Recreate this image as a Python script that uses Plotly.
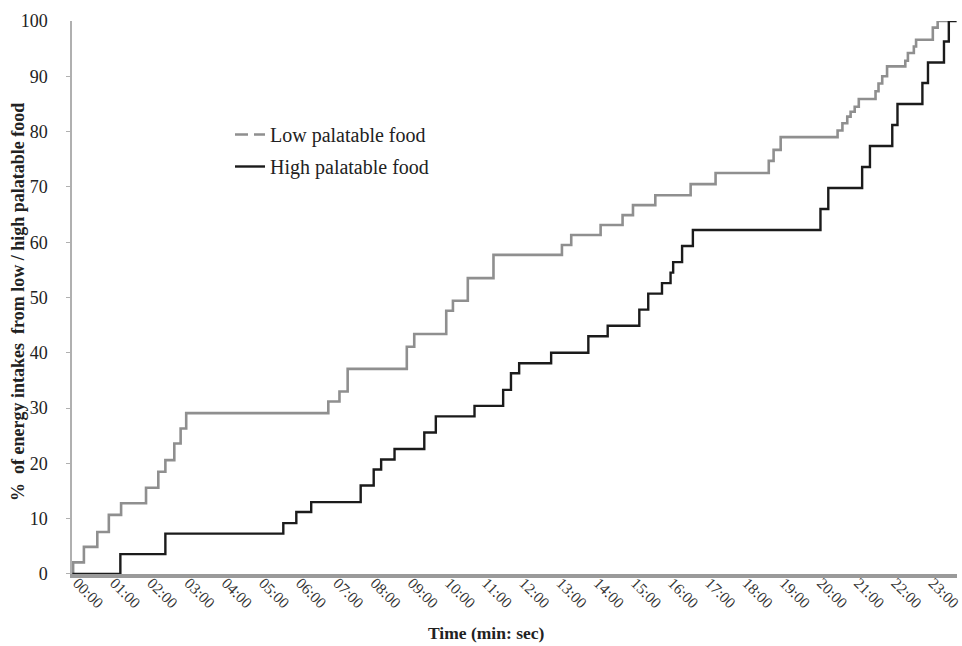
import plotly.graph_objects as go

# Time in minutes, cumulative % of energy intake
high_t = [0.0, 1.29, 2.50, 5.67, 6.02, 6.42, 7.75, 8.10, 8.30, 8.66, 9.46, 9.77,
          10.81, 11.58, 11.79, 12.01, 12.87, 13.87, 14.39, 15.24, 15.48, 15.85,
          16.08, 16.15, 16.39, 16.68, 20.11, 20.32, 21.23, 21.44, 22.04, 22.18,
          22.85, 23.00, 23.43, 23.56, 23.77]
high_v = [0.0, 3.6, 7.3, 9.2, 11.2, 13.0, 16.0, 18.9, 20.7, 22.6, 25.6, 28.5,
          30.4, 33.3, 36.3, 38.1, 40.0, 43.0, 44.9, 47.8, 50.7, 52.6,
          54.5, 56.4, 59.3, 62.2, 66.0, 69.8, 73.6, 77.4, 81.2, 85.0,
          88.8, 92.5, 96.3, 100.0, 100.0]

low_t = [0.0, 0.02, 0.31, 0.67, 0.98, 1.31, 1.98, 2.31, 2.50, 2.74, 2.91, 3.06,
         6.88, 7.18, 7.40, 8.99, 9.19, 10.05, 10.23, 10.63, 11.32, 13.16, 13.41,
         14.20, 14.79, 15.07, 15.67, 16.62, 17.29, 18.72, 18.85, 19.04, 20.57,
         20.70, 20.83, 20.92, 21.03, 21.14, 21.59, 21.67, 21.77, 21.90, 22.39,
         22.46, 22.62, 22.68, 23.13, 23.26, 23.55]
low_v = [0.0, 2.1, 4.9, 7.6, 10.7, 12.8, 15.6, 18.5, 20.6, 23.6, 26.3, 29.1,
         31.2, 33.0, 37.1, 41.1, 43.4, 47.6, 49.4, 53.5, 57.7, 59.5, 61.3,
         63.1, 64.9, 66.7, 68.5, 70.5, 72.5, 74.7, 76.7, 79.0, 80.2,
         81.5, 82.7, 83.6, 84.5, 85.9, 87.3, 88.7, 90.0, 91.8, 92.8,
         94.2, 95.4, 96.6, 98.8, 100.0, 100.0]

tick_vals = list(range(24))
tick_text = ["%02d:00" % m for m in tick_vals]
y_ticks = list(range(0, 101, 10))

GRAY = "#8f8f8f"
BLACK = "#1b1b1b"
SERIF = "Liberation Serif, Times New Roman, serif"

L, R, T, B = 72, 5, 21, 72
PW, PH = 962 - L - R, 646 - T - B

fig = go.Figure()
fig.add_trace(go.Scatter(x=low_t, y=low_v, mode="lines", line=dict(color=GRAY, width=2.6, shape="hv"),
                         showlegend=False))
fig.add_trace(go.Scatter(x=high_t, y=high_v, mode="lines", line=dict(color=BLACK, width=2.4, shape="hv"),
                         showlegend=False))
# legend entries
fig.add_trace(go.Scatter(x=[None], y=[None], mode="lines", name="Low palatable food",
                         line=dict(color=GRAY, width=2.6, dash="13px,6px"), legendgroup="a"))
fig.add_trace(go.Scatter(x=[None], y=[None], mode="lines", name="High palatable food",
                         line=dict(color=BLACK, width=2.4), legendgroup="b"))

fig.update_layout(
    width=962, height=646,
    margin=dict(l=L, r=R, t=T, b=B, autoexpand=False),
    paper_bgcolor="white", plot_bgcolor="white",
    font=dict(family=SERIF, color="#222222"),
    legend=dict(x=(230 - L) / PW, y=(574 - 115) / PH, xanchor="left", yanchor="top",
                bgcolor="rgba(0,0,0,0)",
                font=dict(family=SERIF, size=20, color="#222222"), tracegroupgap=3),
    xaxis=dict(range=[-0.01, 23.78], tickvals=tick_vals, ticktext=tick_text, tickangle=45,
               showgrid=False, zeroline=False, showline=True, linecolor="#9a9a9a", linewidth=4,
               ticks="", automargin=False, ticklabelshift=5, ticklabelstandoff=-10,
               ticklabeloverflow="allow",
               tickfont=dict(family=SERIF, size=15.5, color="#333333")),
    yaxis=dict(range=[0, 100], tickvals=y_ticks, showgrid=False, zeroline=False, automargin=False,
               showline=True, linecolor="#b0b0b0", linewidth=1.5, ticks="outside", ticklen=19,
               tickcolor="rgba(0,0,0,0)",
               minor=dict(tickvals=[v + 0.01 for v in y_ticks], ticks="outside", ticklen=4,
                          tickcolor="#b0b0b0", showgrid=False),
               tickfont=dict(family=SERIF, size=18, color="#222222")),
    annotations=[
        dict(text="<b>Time (min: sec)</b>", xref="paper", yref="paper",
             x=(486 - L) / PW, y=-(633 - 574) / PH, xanchor="center", yanchor="middle",
             showarrow=False, font=dict(family=SERIF, size=17.5, color="#222222")),
        dict(text="<b>%  of energy intakes  from low / high palatable food</b>", xref="paper", yref="paper",
             x=-(L - 18) / PW, y=(574 - 302) / PH, xanchor="center", yanchor="middle", textangle=-90,
             showarrow=False, font=dict(family=SERIF, size=18, color="#222222")),
    ],
)

fig.write_html("out.html", config={"displayModeBar": False},
               post_script="document.body.style.margin='0';document.body.style.overflow='hidden';")
